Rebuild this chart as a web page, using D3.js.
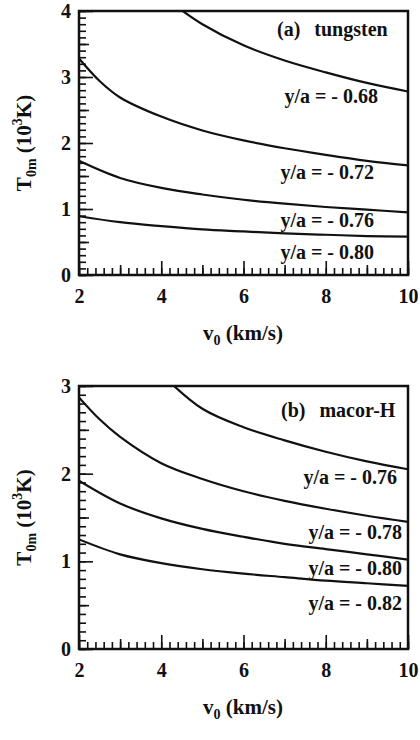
<!DOCTYPE html>
<html>
<head>
<meta charset="utf-8">
<script src="https://cdn.jsdelivr.net/npm/d3@7"></script>
<style>
  body { margin: 0; background: #fff; }
</style>
</head>
<body>
<div id="chart"></div>
<script>
var FONT = "Liberation Serif";

// velocity ticks
var xMajor = [2, 4, 6, 8, 10];
var xMid = [3, 5, 7, 9];
var xMinor = d3.range(2, 10.001, 0.2);

// (a) tungsten
var tungstenTicks = [0, 1, 2, 3, 4];
var tungstenLabels = ["y/a = - 0.68", "y/a = - 0.72", "y/a = - 0.76", "y/a = - 0.80"];
var tungsten068 = [[4.3, 4.1], [5, 3.8], [6, 3.48], [7, 3.25], [8, 3.07], [9, 2.91], [10, 2.78]];
var tungsten072 = [[2, 3.28], [2.5, 2.94], [3, 2.69], [4, 2.4], [5, 2.19], [6, 2.04], [7, 1.92], [8, 1.82], [9, 1.73], [10, 1.66]];
var tungsten076 = [[2, 1.73], [3, 1.47], [4, 1.32], [5, 1.22], [6, 1.14], [7, 1.08], [8, 1.03], [9, 0.99], [10, 0.95]];
var tungsten080 = [[2, 0.89], [3, 0.8], [4, 0.74], [5, 0.69], [6, 0.66], [7, 0.63], [8, 0.61], [9, 0.59], [10, 0.58]];

// (b) macor-H
var macorTicks = [0, 1, 2, 3];
var macorLabels = ["y/a = - 0.76", "y/a = - 0.78", "y/a = - 0.80", "y/a = - 0.82"];
var macor076 = [[4.15, 3.07], [5, 2.74], [6, 2.53], [7, 2.38], [8, 2.25], [9, 2.14], [10, 2.05]];
var macor078 = [[2, 2.87], [2.5, 2.62], [3, 2.42], [4, 2.12], [5, 1.94], [6, 1.8], [7, 1.69], [8, 1.6], [9, 1.52], [10, 1.45]];
var macor080 = [[2, 1.92], [3, 1.66], [4, 1.49], [5, 1.37], [6, 1.28], [7, 1.2], [8, 1.14], [9, 1.08], [10, 1.02]];
var macor082 = [[2, 1.25], [3, 1.08], [4, 0.98], [5, 0.91], [6, 0.86], [7, 0.82], [8, 0.78], [9, 0.75], [10, 0.72]];

var svg = d3.select("#chart")
    .append("svg")
    .attr("width", 420)
    .attr("height", 740)
    .attr("font-family", FONT);

function addText(sel, size) {
    return sel.append("text")
        .attr("font-family", FONT)
        .attr("font-size", size)
        .attr("font-weight", "bold")
        .attr("fill", "#111");
}

function drawPanel(p) {
    var x = d3.scaleLinear().domain([2, 10]).range([79, 408]);
    var y = d3.scaleLinear().domain([0, p.yMax]).range([p.bottom, p.top]);
    var g = svg.append("g");

    g.append("clipPath").attr("id", p.id + "-clip")
        .append("rect")
        .attr("x", 79).attr("y", p.top)
        .attr("width", 329).attr("height", p.bottom - p.top);

    function styleAxis(ax) {
        ax.attr("font-family", FONT);
        ax.select(".domain").remove();
        ax.selectAll("line").attr("stroke", "#111").attr("stroke-width", 1.6);
        ax.selectAll("text")
            .attr("font-family", FONT)
            .attr("font-size", 20)
            .attr("font-weight", "bold")
            .attr("fill", "#111");
    }

    // ticks pointing inward
    function xAxis(vals, size, labels) {
        var a = d3.axisBottom(x).tickValues(vals).tickSize(-size).tickPadding(14)
            .tickFormat(labels ? d3.format("d") : "");
        styleAxis(g.append("g").attr("transform", "translate(0," + p.bottom + ")").call(a));
    }
    xAxis(xMinor, 7, false);
    xAxis(xMid, 10, false);
    xAxis(xMajor, 14, true);

    function yAxis(vals, size, labels) {
        var a = d3.axisLeft(y).tickValues(vals).tickSize(-size).tickPadding(8)
            .tickFormat(labels ? d3.format("d") : "");
        styleAxis(g.append("g").attr("transform", "translate(79,0)").call(a));
    }
    yAxis(d3.range(0, p.yMax + 0.001, 0.1), 7, false);
    yAxis(d3.range(0.5, p.yMax, 1), 10, false);
    yAxis(p.yTicks, 14, true);

    g.append("rect")
        .attr("x", 79).attr("y", p.top)
        .attr("width", 329).attr("height", p.bottom - p.top)
        .attr("fill", "none").attr("stroke", "#111").attr("stroke-width", 2.5);

    var line = d3.line()
        .x(function (d) { return x(d[0]); })
        .y(function (d) { return y(d[1]); })
        .curve(d3.curveCatmullRom.alpha(0.5));

    g.append("g").attr("clip-path", "url(#" + p.id + "-clip)")
        .selectAll("path").data(p.series).enter()
        .append("path")
        .attr("d", line)
        .attr("fill", "none")
        .attr("stroke", "#111")
        .attr("stroke-width", 2.2);

    // curve labels
    p.labels.forEach(function (d, i) {
        addText(g, 20)
            .attr("x", p.labelX[i])
            .attr("y", p.labelY[i])
            .attr("text-anchor", "end")
            .text(d);
    });

    var title = addText(g, 20).attr("x", p.titleX).attr("y", p.titleY);
    title.append("tspan").text(p.tag);
    title.append("tspan").attr("dx", 14).text(p.material);

    // axis titles
    var xt = addText(g, 21)
        .attr("x", 243).attr("y", p.bottom + 65)
        .attr("text-anchor", "middle");
    xt.append("tspan").text("v");
    xt.append("tspan").attr("font-size", 14).attr("dy", 5).text("0");
    xt.append("tspan").attr("dy", -5).text(" (km/s)");

    var yt = addText(g, 21)
        .attr("transform", "translate(31," + ((p.top + p.bottom) / 2) + ") rotate(-90)")
        .attr("text-anchor", "middle");
    yt.append("tspan").text("T");
    yt.append("tspan").attr("font-size", 14).attr("dy", 5).text("0m");
    yt.append("tspan").attr("dy", -5).text(" (10");
    yt.append("tspan").attr("font-size", 14).attr("dy", -9).text("3");
    yt.append("tspan").attr("dy", 9).text("K)");
}

drawPanel({
    id: "a", top: 11, bottom: 275, yMax: 4, yTicks: tungstenTicks,
    series: [tungsten068, tungsten072, tungsten076, tungsten080],
    labels: tungstenLabels,
    labelX: [378, 374, 374, 374],
    labelY: [103, 179, 227, 259],
    tag: "(a)", material: "tungsten", titleX: 277, titleY: 36
});

drawPanel({
    id: "b", top: 386, bottom: 649, yMax: 3, yTicks: macorTicks,
    series: [macor076, macor078, macor080, macor082],
    labels: macorLabels,
    labelX: [397, 402, 402, 402],
    labelY: [484, 539, 575, 610],
    tag: "(b)", material: "macor-H", titleX: 281, titleY: 417
});
</script>
</body>
</html>
